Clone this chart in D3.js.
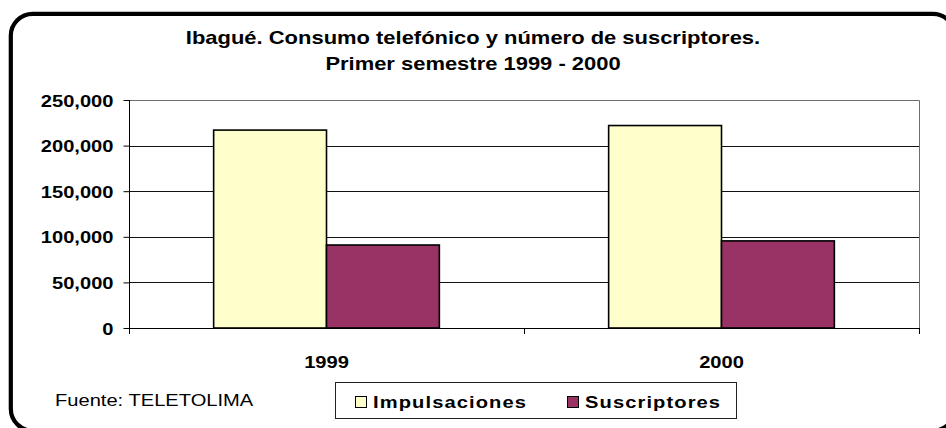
<!DOCTYPE html>
<html>
<head>
<meta charset="utf-8">
<script src="https://cdn.jsdelivr.net/npm/d3@7/dist/d3.min.js"></script>
<style>
  html, body { margin: 0; padding: 0; background: #fff; overflow: hidden; }
  svg { display: block; font-family: "Liberation Sans", Arial, sans-serif; }
</style>
</head>
<body>
<svg id="chart" width="946" height="428"></svg>
<script>
// Consumo telefónico y suscriptores, Ibagué, primer semestre
const years = ["1999", "2000"];
const seriesNames = ["Impulsaciones", "Suscriptores"];
const impulsaciones = [217000, 222000];
const suscriptores = [91000, 95500];
const seriesColors = ["#FFFFCC", "#993366"];
const yTicks = [0, 50000, 100000, 150000, 200000, 250000];
const titleLines = ["Ibagué. Consumo telefónico y número de suscriptores.", "Primer semestre 1999 - 2000"];
const sourceText = "Fuente: TELETOLIMA";

// Text in this chart is drawn slightly wide
const SX = 1.22;
const place = (x, y) => `translate(${x},${y}) scale(${SX},1)`;

const svg = d3.select("#chart");

// Rounded outer frame (right and bottom edges run past the page)
svg.append("rect")
  .attr("x", 10.8).attr("y", 13.8)
  .attr("width", 944).attr("height", 417)
  .attr("rx", 22).attr("ry", 22)
  .attr("fill", "#fff").attr("stroke", "#000").attr("stroke-width", 4.2);

// Title
svg.append("g").selectAll("text").data(titleLines).join("text")
  .attr("transform", (d, i) => place(473, 44 + i * 26))
  .attr("text-anchor", "middle")
  .attr("font-size", 18).attr("font-weight", "bold")
  .text(d => d);

const plot = { left: 129, right: 919, top: 100, bottom: 328 };

const x0 = d3.scaleBand().domain(years).range([plot.left, plot.right]);
// two bars per year, gap between groups of 1.5 bar widths
const x1 = d3.scaleBand().domain(seriesNames).range([0, x0.bandwidth()])
  .paddingInner(0).paddingOuter(0.75);

const y = d3.scaleLinear().domain([0, 250000]).range([plot.bottom, plot.top]);

// Plot area border (top and right)
svg.append("path")
  .attr("d", `M${plot.left},${plot.top + 0.5}H${plot.right + 0.5}V${plot.bottom + 6}`)
  .attr("fill", "none").attr("stroke", "#6e6e6e").attr("stroke-width", 1);

// Gridlines
svg.append("g").selectAll("line").data(yTicks.filter(t => t > 0 && t < 250000)).join("line")
  .attr("x1", plot.left).attr("x2", plot.right)
  .attr("y1", d => Math.round(y(d)) + 0.5).attr("y2", d => Math.round(y(d)) + 0.5)
  .attr("stroke", "#111").attr("stroke-width", 1);

// Bars
const rows = years.map((yr, i) => ({ year: yr, values: [impulsaciones[i], suscriptores[i]] }));
const groups = svg.append("g").selectAll("g").data(rows).join("g")
  .attr("transform", d => `translate(${x0(d.year)},0)`);
groups.selectAll("rect")
  .data(d => d.values.map((v, j) => ({ name: seriesNames[j], value: v, color: seriesColors[j] })))
  .join("rect")
  .attr("x", d => x1(d.name))
  .attr("y", d => y(d.value))
  .attr("width", x1.bandwidth())
  .attr("height", d => plot.bottom - y(d.value))
  .attr("fill", d => d.color)
  .attr("stroke", "#000").attr("stroke-width", 1.6);

// Y axis
const yAxis = d3.axisLeft(y).tickValues(yTicks).tickSize(6).tickFormat(d3.format(",.0f"));
const gy = svg.append("g").attr("transform", `translate(${plot.left + 0.5},0)`).call(yAxis);
gy.select(".domain").remove();
gy.append("line").attr("x1", 0).attr("x2", 0)
  .attr("y1", plot.top).attr("y2", plot.bottom + 6).attr("stroke", "#000");
gy.selectAll(".tick line").attr("stroke", "#000");
gy.selectAll(".tick text")
  .attr("x", null).attr("dy", null)
  .attr("transform", place(-16, 6))
  .attr("text-anchor", "end")
  .attr("font-size", 16.5).attr("font-weight", "bold").attr("fill", "#000")
  .attr("font-family", "Liberation Sans, Arial, sans-serif");

// X axis baseline with category-boundary ticks
svg.append("line")
  .attr("x1", plot.left).attr("x2", plot.right)
  .attr("y1", plot.bottom + 0.5).attr("y2", plot.bottom + 0.5)
  .attr("stroke", "#000");
const boundaries = years.map(yr => x0(yr)).concat([plot.right]);
svg.append("g").selectAll("line").data(boundaries).join("line")
  .attr("x1", d => Math.round(d) + 0.5).attr("x2", d => Math.round(d) + 0.5)
  .attr("y1", plot.bottom).attr("y2", plot.bottom + 6)
  .attr("stroke", "#000");
svg.append("g").selectAll("text").data(years).join("text")
  .attr("transform", d => place(x0(d) + x0.bandwidth() / 2, 368))
  .attr("text-anchor", "middle")
  .attr("font-size", 16.5).attr("font-weight", "bold")
  .text(d => d);

// Source note
svg.append("text")
  .attr("transform", place(55, 405.5))
  .attr("font-size", 16.5)
  .text(sourceText);

// Legend
const legend = svg.append("g");
legend.append("rect")
  .attr("x", 335.5).attr("y", 382.5).attr("width", 401).attr("height", 36)
  .attr("fill", "#fff").attr("stroke", "#222").attr("stroke-width", 1);
const legendX = [355, 567];
const items = legend.selectAll("g").data(seriesNames).join("g")
  .attr("transform", (d, i) => `translate(${legendX[i]},0)`);
items.append("rect")
  .attr("x", 0.5).attr("y", 396.5).attr("width", 11).attr("height", 11)
  .attr("fill", (d, i) => seriesColors[i]).attr("stroke", "#000").attr("stroke-width", 1);
items.append("text")
  .attr("transform", place(18, 407.5))
  .attr("font-size", 16.5).attr("font-weight", "bold").attr("letter-spacing", 0.9)
  .text(d => d);
</script>
</body>
</html>
